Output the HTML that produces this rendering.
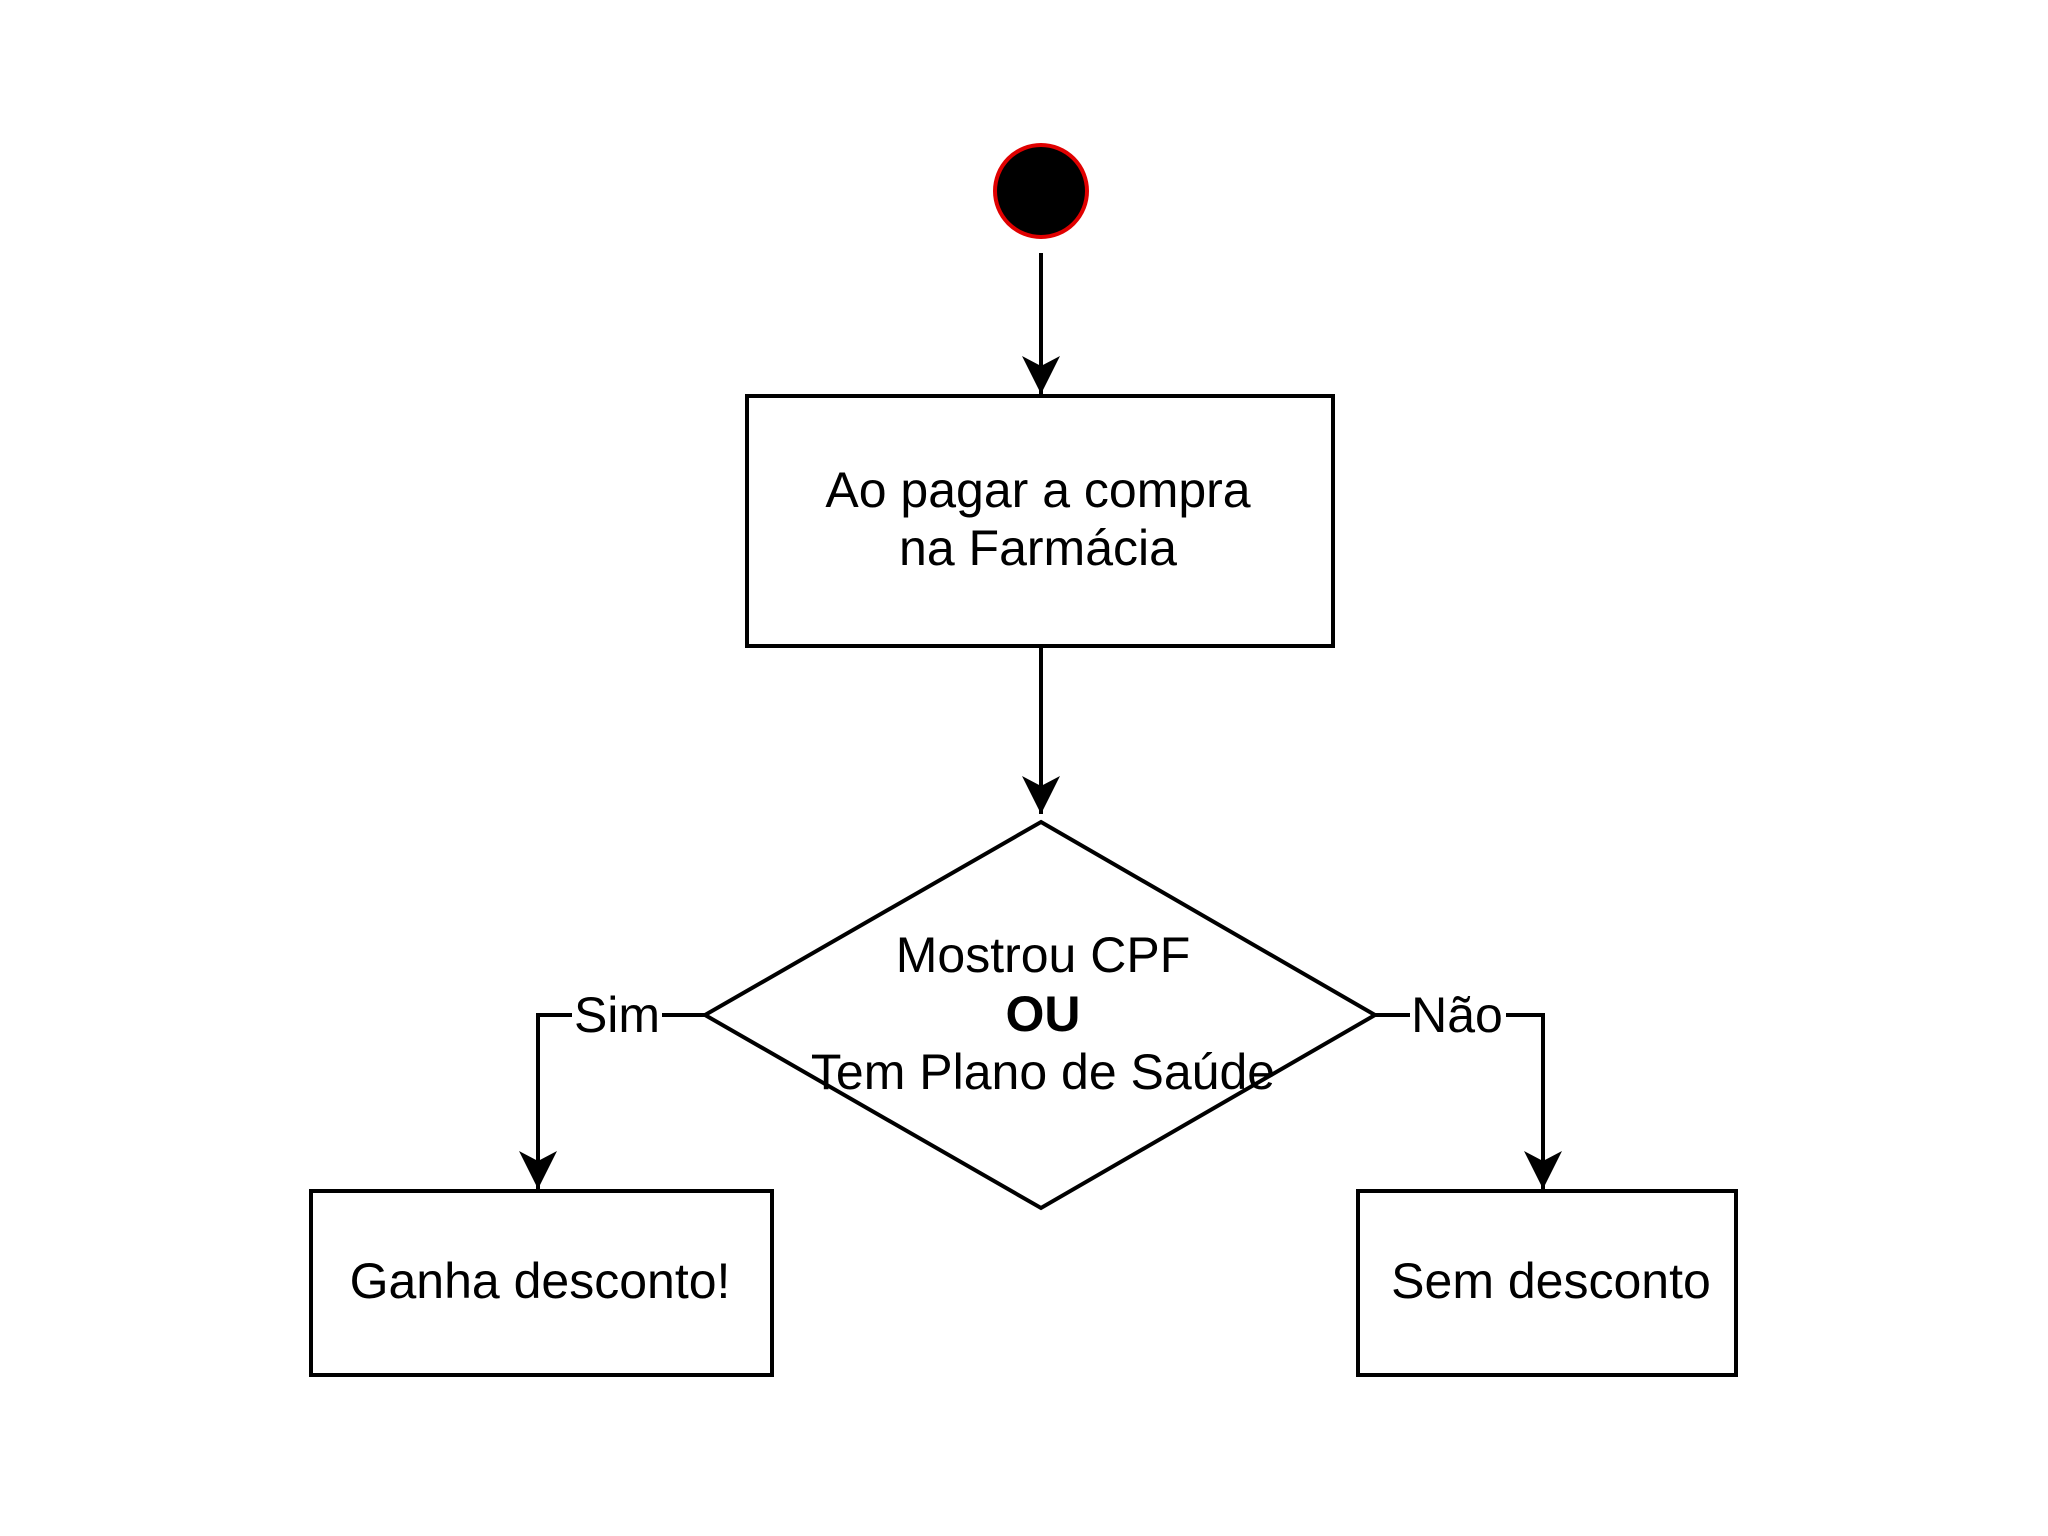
<!DOCTYPE html>
<html><head><meta charset="utf-8"><style>html,body{margin:0;padding:0;background:#fff}svg{display:block}</style></head>
<body>
<svg width="2048" height="1536" viewBox="0 0 2048 1536" xmlns="http://www.w3.org/2000/svg" font-family="'Liberation Sans', Arial, sans-serif" font-size="50">
<defs>
<marker id="a" markerUnits="userSpaceOnUse" markerWidth="40" markerHeight="44" refX="38" refY="20" orient="auto" viewBox="0 0 40 40">
<path d="M0,1 L38,20 L0,39 L10,20 Z" fill="#000"/>
</marker>
</defs>
<rect width="2048" height="1536" fill="#fff"/>
<circle cx="1041" cy="191" r="46" fill="#000" stroke="#e00000" stroke-width="4"/>
<g stroke="#000" stroke-width="4" fill="none">
<line x1="1041" y1="253" x2="1041" y2="394" marker-end="url(#a)"/>
<rect x="747" y="396" width="586" height="250"/>
<line x1="1041" y1="646" x2="1041" y2="814" marker-end="url(#a)"/>
<polygon points="1041,822 1375,1015 1041,1208 705,1015"/>
<polyline points="705,1015 538,1015 538,1189" marker-end="url(#a)"/>
<polyline points="1375,1015 1543,1015 1543,1189" marker-end="url(#a)"/>
<rect x="311" y="1191" width="461" height="184"/>
<rect x="1358" y="1191" width="378" height="184"/>
</g>
<rect x="572" y="990" width="90" height="50" fill="#fff"/>
<rect x="1410" y="990" width="96" height="50" fill="#fff"/>
<g fill="#000" text-anchor="middle">
<text x="1038" y="507">Ao pagar a compra</text>
<text x="1038" y="565">na Farmácia</text>
<text x="1043" y="972">Mostrou CPF</text>
<text x="1043" y="1031" font-weight="bold">OU</text>
<text x="1043" y="1089">Tem Plano de Saúde</text>
<text x="617" y="1032">Sim</text>
<text x="1457" y="1032">Não</text>
<text x="540" y="1298">Ganha desconto!</text>
<text x="1551" y="1298">Sem desconto</text>
</g>
</svg>
</body></html>
